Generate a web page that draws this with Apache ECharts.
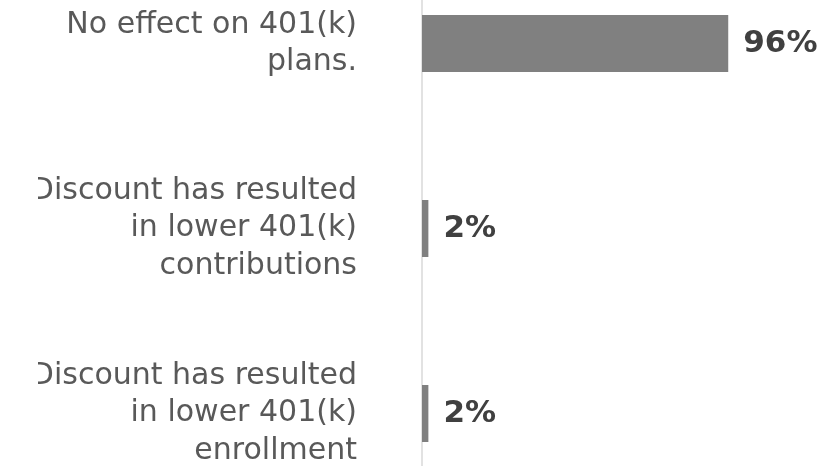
<!DOCTYPE html>
<html>
<head>
<meta charset="utf-8">
<script src="https://cdn.jsdelivr.net/npm/echarts@6/dist/echarts.min.js"></script>
<style>
  html, body { margin: 0; padding: 0; background: #fff; }
  #wrap { position: relative; width: 827px; height: 466px; overflow: hidden; }
  #chart { position: absolute; left: 38px; top: 0; width: 789px; height: 466px; }
</style>
</head>
<body>
<div id="wrap"><div id="chart"></div></div>
<script>
// Survey responses: effect of the discount on 401(k) plans
const categories = [
  'No effect on 401(k)\nplans.',
  'Discount has resulted\nin lower 401(k)\ncontributions',
  'Discount has resulted\nin lower 401(k)\nenrollment'
];
const shares = [96, 2, 2];

const chart = echarts.init(document.getElementById('chart'), null, { renderer: 'canvas' });
chart.setOption({
  animation: false,
  backgroundColor: '#ffffff',
  grid: {
    left: 384, top: -49, height: 555, width: 319,
    containLabel: false,
    outerBoundsMode: 'none'
  },
  xAxis: {
    type: 'value', min: 0, max: 100,
    show: false
  },
  yAxis: {
    type: 'category',
    data: categories,
    inverse: true,
    axisTick: { show: false },
    axisLine: { show: true, lineStyle: { color: '#d9d9d9', width: 1.5 } },
    axisLabel: {
      margin: 65,
      align: 'right',
      color: '#595959',
      fontFamily: 'DejaVu Sans',
      fontSize: 30,
      lineHeight: 37.5
    }
  },
  series: [{
    type: 'bar',
    data: shares,
    barWidth: 57,
    itemStyle: { color: '#808080' },
    label: {
      show: true,
      position: 'right',
      distance: 15,
      formatter: '{c}%',
      color: '#404040',
      fontFamily: 'DejaVu Sans',
      fontWeight: 'bold',
      fontSize: 31
    }
  }]
});
</script>
</body>
</html>
